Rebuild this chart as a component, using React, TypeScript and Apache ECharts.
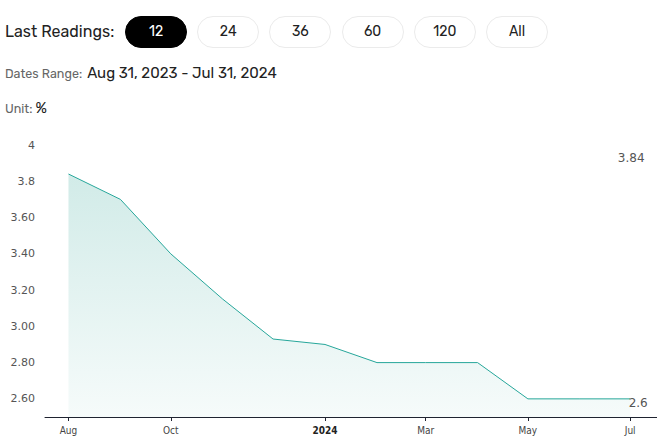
import React, { useEffect, useRef } from "react";
import * as echarts from "echarts";

const dates = [
  "2023-08-01", "2023-09-01", "2023-10-01", "2023-11-01", "2023-12-01", "2024-01-01",
  "2024-02-01", "2024-03-01", "2024-04-01", "2024-05-01", "2024-06-01", "2024-07-01",
];
const values = [3.84, 3.7, 3.4, 3.15, 2.93, 2.9, 2.8, 2.8, 2.8, 2.6, 2.6, 2.6];
const tickDates = ["2023-08-01", "2023-10-01", "2024-01-01", "2024-03-01", "2024-05-01", "2024-07-01"];
const monthNames = ["Jan", "Feb", "Mar", "Apr", "May", "Jun", "Jul", "Aug", "Sep", "Oct", "Nov", "Dec"];
const buttons = ["12", "24", "36", "60", "120", "All"];
const dateRangeText = "Aug 31, 2023 - Jul 31, 2024";
const unitText = "%";

const ts = (d: string) => {
  const [y, m, dd] = d.split("-").map(Number);
  return Date.UTC(y, m - 1, dd);
};
const DAY = 86400000;

export default function App() {
  const ref = useRef<HTMLDivElement>(null);
  useEffect(() => {
    document.body.style.margin = "0";
    if (!ref.current) return;
    const chart = echarts.init(ref.current, undefined, { renderer: "svg" });
    const data = dates.map((d, i) => [ts(d), values[i]]);
    const lastT = ts(dates[dates.length - 1]);
    const maxV = Math.max(...values);
    const lastV = values[values.length - 1];
    chart.setOption({
      animation: false,
      grid: { left: 45, right: 0, top: 145, bottom: 24 },
      xAxis: {
        type: "value",
        min: ts(dates[0]) - 14 * DAY,
        max: lastT + 16 * DAY,
        axisLine: { show: true, lineStyle: { color: "#1f2330", width: 1 } },
        axisTick: { show: true, length: 4, lineStyle: { color: "#1f2330" }, customValues: tickDates.map(ts) },
        splitLine: { show: false },
        axisLabel: {
          customValues: tickDates.map(ts),
          fontSize: 10,
          color: "#444",
          fontFamily: "DejaVu Sans Condensed, sans-serif",
          margin: 8,
          formatter: (v: number) => {
            const d = new Date(v);
            const m = d.getUTCMonth();
            if (m === 0) return "{b|" + d.getUTCFullYear() + "}";
            return monthNames[m];
          },
          rich: { b: { fontWeight: "bold", fontSize: 10, color: "#222", fontFamily: "DejaVu Sans Condensed, sans-serif" } },
        },
      },
      yAxis: {
        type: "value",
        min: 2.5,
        max: 4,
        interval: 0.1,
        axisLine: { show: false },
        axisTick: { show: false },
        splitLine: { show: false },
        axisLabel: {
          fontSize: 11,
          color: "#555",
          fontFamily: "DejaVu Sans, sans-serif",
          margin: 10,
          formatter: (v: number) => {
            const t = Math.round(v * 10);
            if (t % 2) return "";
            if (t === 40) return "4";
            if (t === 38) return "3.8";
            return (t / 10).toFixed(2);
          },
        },
      },
      series: [
        {
          type: "line",
          data,
          symbol: "none",
          lineStyle: { color: "#26a69a", width: 1 },
          itemStyle: { color: "#26a69a" },
          areaStyle: {
            color: new echarts.graphic.LinearGradient(0, 0, 0, 1, [
              { offset: 0, color: "rgba(38,160,145,0.3)" },
              { offset: 1, color: "rgba(38,160,145,0.06)" },
            ]),
          },
          markPoint: {
            symbol: "circle",
            symbolSize: 1,
            itemStyle: { color: "rgba(0,0,0,0)" },
            label: { show: true, color: "#555", fontSize: 12, fontFamily: "DejaVu Sans, sans-serif" },
            data: [
              { coord: [lastT, maxV], value: maxV, label: { position: "inside", offset: [1, -16], formatter: String(maxV) } },
              { coord: [lastT, lastV], value: lastV, label: { position: "inside", offset: [8, 4], formatter: String(lastV) } },
            ],
          },
        },
      ],
    });
    return () => chart.dispose();
  }, []);

  const font = "Rubik, Inter, 'Noto Sans', sans-serif";
  return (
    <div style={{ position: "relative", width: 657, height: 441, fontFamily: font, background: "#fff" }}>
      <div ref={ref} style={{ position: "absolute", left: 0, top: 0, width: 657, height: 441 }} />
      <div style={{ position: "absolute", left: 5, top: 20, height: 24, lineHeight: "24px", fontSize: 16, color: "#222" }}>
        Last Readings:
      </div>
      {buttons.map((b, i) => (
        <div
          key={b}
          style={{
            position: "absolute",
            left: 125 + i * 72.2,
            top: 16,
            width: 62,
            height: 32,
            boxSizing: "border-box",
            borderRadius: 16,
            border: i === 0 ? "1px solid #000" : "1px solid #ebebeb",
            background: i === 0 ? "#000" : "#fff",
            color: i === 0 ? "#fff" : "#222",
            fontSize: 14,
            lineHeight: "30px",
            textAlign: "center",
          }}
        >
          {b}
        </div>
      ))}
      <div style={{ position: "absolute", left: 5, top: 62, height: 22, lineHeight: "22px", whiteSpace: "nowrap" }}>
        <span style={{ fontSize: 12.5, color: "#666" }}>Dates Range: </span>
        <span style={{ fontSize: 15, color: "#222", marginLeft: 2 }}>{dateRangeText}</span>
      </div>
      <div style={{ position: "absolute", left: 5, top: 97, height: 22, lineHeight: "22px", whiteSpace: "nowrap" }}>
        <span style={{ fontSize: 12.5, color: "#666" }}>Unit: </span>
        <span style={{ fontSize: 15, color: "#222" }}>{unitText}</span>
      </div>
    </div>
  );
}
